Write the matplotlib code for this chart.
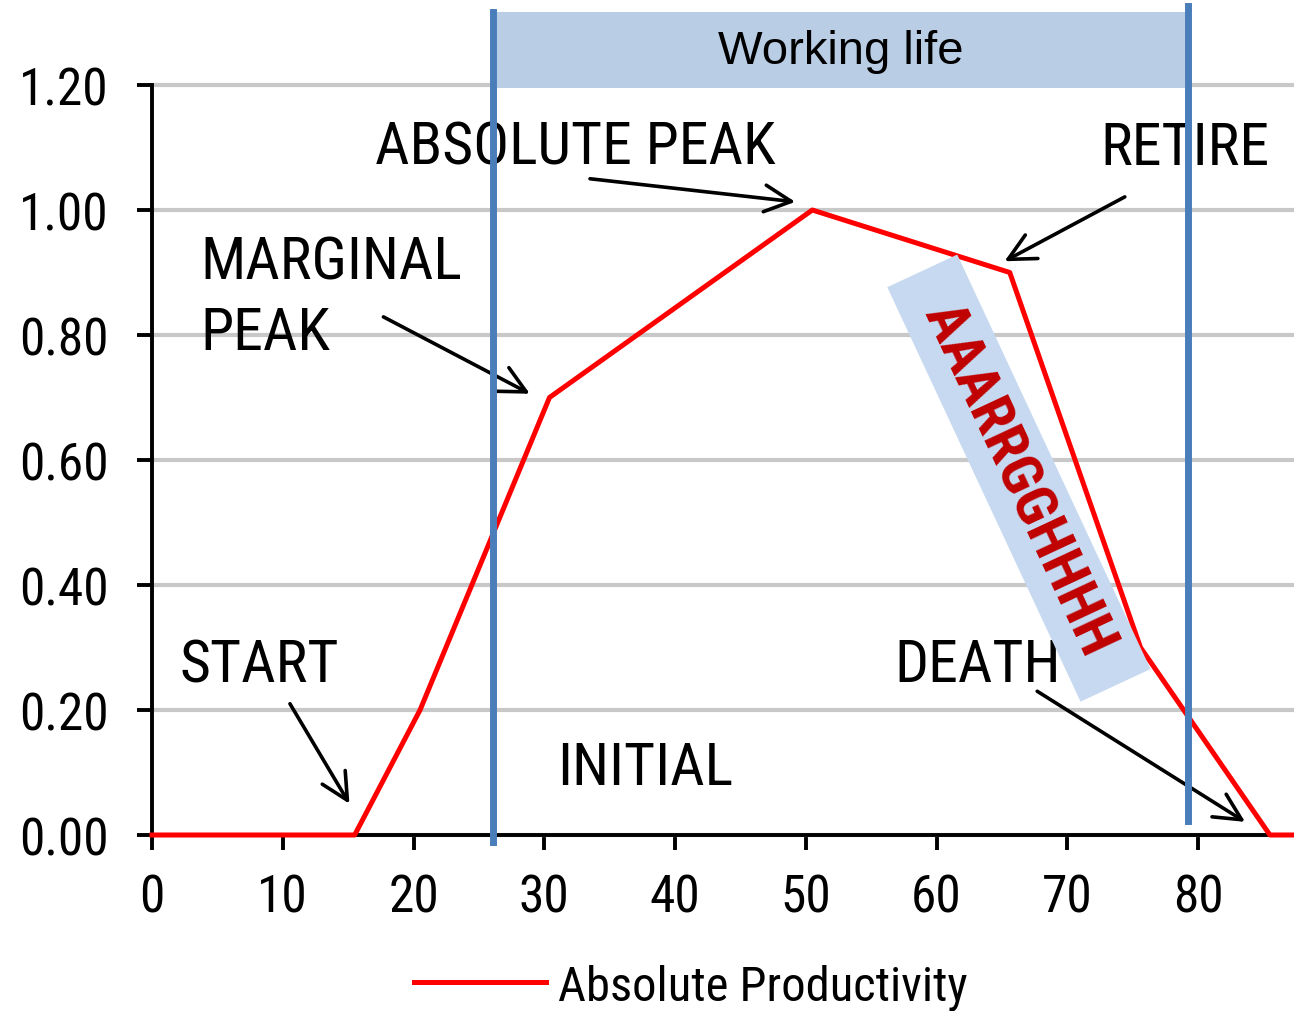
import matplotlib
matplotlib.use('Agg')
import matplotlib.pyplot as plt
import matplotlib.transforms as mtransforms
from matplotlib.patches import Rectangle

plt.rcParams['font.family'] = ['Roboto Condensed', 'Liberation Sans', 'DejaVu Sans']

# datos
edad = [0, 15.5, 20.5, 30.4, 50.5, 65.6, 75.6, 85.5, 87.4]
productividad = [0.0, 0.0, 0.2, 0.7, 1.0, 0.9, 0.3, 0.0, 0.0]
inicio_trabajo = 26.1
fin_trabajo = 79.2
xticks = [0, 10, 20, 30, 40, 50, 60, 70, 80]
yticks = [0.0, 0.2, 0.4, 0.6, 0.8, 1.0, 1.2]
serie = 'Absolute Productivity'

# etiquetas: texto, posicion del texto, cola y punta de la flecha
etiquetas = [
    ('ABSOLUTE PEAK', (17.05, 1.074), (33.5, 1.050), (49.2, 1.013)),
    ('RETIRE', (72.5, 1.074), (74.4, 1.021), (65.2, 0.918)),
    ('MARGINAL', (3.67, 0.890), None, None),
    ('PEAK', (3.67, 0.778), (17.7, 0.829), (28.9, 0.706)),
    ('START', (2.14, 0.246), (10.55, 0.21), (15.1, 0.05)),
    ('DEATH', (56.8, 0.246), (67.7, 0.230), (83.6, 0.021)),
    ('INITIAL', (31.0, 0.082), None, None),
]

fig = plt.figure(figsize=(12.94, 10.12), dpi=100)
ax = fig.add_axes([152 / 1294, 1 - 836 / 1012, 1 - 152 / 1294, (836 - 86) / 1012])

ax.plot(edad, productividad, color='#ff0000', lw=3.6, zorder=3, clip_on=False, label=serie)

ax.set_xlim(0, 87.34)
ax.set_ylim(0, 1.2)
ax.set_xticks(xticks)
ax.set_yticks(yticks)
ax.set_yticklabels(['%.2f' % v for v in yticks])
ax.grid(axis='y', color='#c8c8c8', lw=3)
ax.set_axisbelow(True)
for gl in ax.get_ygridlines():
    gl.set_clip_on(False)

for s in ['top', 'right']:
    ax.spines[s].set_visible(False)
for s in ['left', 'bottom']:
    ax.spines[s].set_linewidth(2.8)
    ax.spines[s].set_zorder(2.5)
ax.tick_params(axis='both', direction='out', length=11, width=2.8, labelsize=37)
ax.tick_params(axis='y', pad=20)
ax.tick_params(axis='x', pad=16)

# vida laboral
trans = mtransforms.blended_transform_factory(ax.transData, ax.transAxes)
ax.add_patch(Rectangle((inicio_trabajo, 0.996), fin_trabajo + 0.15 - inicio_trabajo, 0.101,
                       transform=trans, fc='#b9cde5', ec='none', clip_on=False, zorder=4))
ax.text((inicio_trabajo + fin_trabajo) / 2, 1.045, 'Working life', transform=trans,
        ha='center', va='center', fontsize=34, family=['Liberation Sans', 'DejaVu Sans'], zorder=6)
ax.axvline(inicio_trabajo, ymin=-0.009, ymax=1.097, color='#4a7ebb', lw=5, clip_on=False, zorder=5)
ax.axvline(fin_trabajo, ymin=0.019, ymax=1.105, color='#4a7ebb', lw=5, clip_on=False, zorder=5)

for texto, pos, cola, punta in etiquetas:
    ax.text(pos[0], pos[1], texto, fontsize=43, ha='left', va='baseline', zorder=4)
    if cola is not None:
        ax.annotate('', xy=punta, xytext=cola,
                    arrowprops=dict(arrowstyle='->', lw=2.6, color='black', mutation_scale=48,
                                    shrinkA=0, shrinkB=0), zorder=4)

ax.text(66.3, 0.571, '  AAARRGGHHHH  ', rotation=-65, rotation_mode='anchor',
        ha='center', va='center', fontsize=42, fontweight='bold', color='#c00000',
        bbox=dict(boxstyle='square,pad=0.19', fc='#c6d9f0', ec='none'), zorder=4.5)

ax.legend(loc='center', bbox_to_anchor=(0.534, 0.024), bbox_transform=fig.transFigure,
          frameon=False, fontsize=35, handlelength=2.7, handletextpad=0.25)

fig.savefig('out.png', dpi=100)
